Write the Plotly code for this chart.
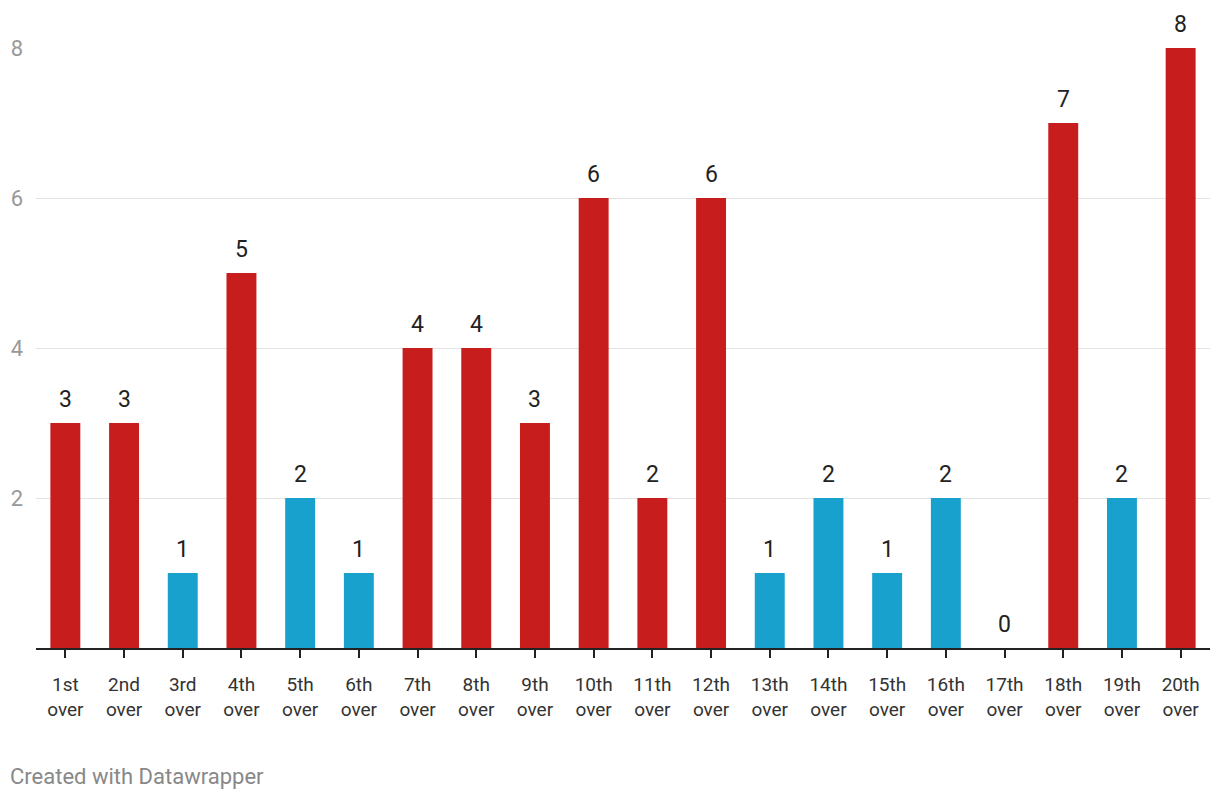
import plotly.graph_objects as go

overs = ["1st over", "2nd over", "3rd over", "4th over", "5th over", "6th over", "7th over",
         "8th over", "9th over", "10th over", "11th over", "12th over", "13th over", "14th over",
         "15th over", "16th over", "17th over", "18th over", "19th over", "20th over"]
values = [3, 3, 1, 5, 2, 1, 4, 4, 3, 6, 2, 6, 1, 2, 1, 2, 0, 7, 2, 8]
highlight = [1, 1, 0, 1, 0, 0, 1, 1, 1, 1, 1, 1, 0, 0, 0, 0, 0, 1, 0, 1]
y_ticks = [2, 4, 6, 8]

RED = "#c71e1d"
BLUE = "#18a1cd"
colors = [RED if h else BLUE for h in highlight]
tick_text = [o.replace(" ", "<br>") for o in overs]
xs = list(range(len(overs)))

fig = go.Figure()
fig.add_trace(go.Bar(
    x=xs, y=values,
    marker=dict(color=colors, line=dict(width=0)),
    width=0.51, hoverinfo="skip",
))
for x, v in zip(xs, values):
    fig.add_annotation(
        x=x, y=v, text=str(v), showarrow=False,
        xanchor="center", yanchor="middle", yshift=24,
        font=dict(family="Roboto", size=23, color="#222"),
    )
fig.update_layout(
    width=1220, height=800,
    margin=dict(l=36, r=10, t=48, b=152),
    plot_bgcolor="white", paper_bgcolor="white",
    font=dict(family="Roboto"),
    showlegend=False,
    xaxis=dict(
        range=[-0.5, 19.5],
        tickmode="array", tickvals=xs, ticktext=tick_text,
        tickfont=dict(family="Roboto", size=19, color="#333"),
        showline=True, linecolor="#222", linewidth=2,
        ticks="outside", ticklen=8, tickwidth=2, tickcolor="#222",
        ticklabelstandoff=10,
        showgrid=False, zeroline=False, fixedrange=True,
    ),
    yaxis=dict(
        range=[0, 8],
        tickmode="array", tickvals=y_ticks, ticktext=[str(t) for t in y_ticks],
        tickfont=dict(family="Roboto", size=22, color="#999"),
        showgrid=True, gridcolor="#e3e3e3", gridwidth=1,
        zeroline=False, showline=False, ticks="", ticklabelstandoff=12,
        fixedrange=True,
    ),
)
fig.add_annotation(
    text="Created with Datawrapper", xref="paper", yref="paper",
    x=0, xshift=-28, y=0, yshift=-128, xanchor="left", yanchor="middle",
    showarrow=False, font=dict(family="Roboto", size=22, color="#888"),
)
fig.write_html("out.html", config={"displayModeBar": False},
               post_script="document.body.style.margin='0';")
